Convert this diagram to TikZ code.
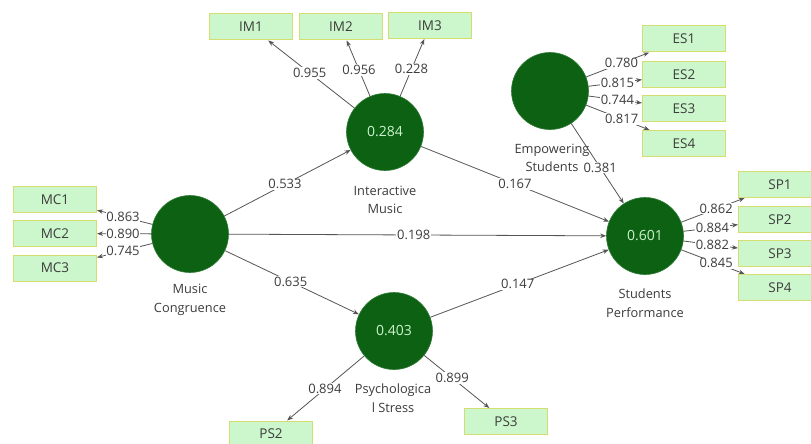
\documentclass[tikz,border=0pt]{standalone}
\usepackage{fontspec}
\setmainfont{Open Sans}
\usetikzlibrary{arrows.meta}
\definecolor{lv}{RGB}{12,98,18}
\definecolor{boxfill}{RGB}{204,247,204}
\definecolor{boxdraw}{RGB}{212,222,112}
\definecolor{lvtext}{RGB}{205,242,205}
\definecolor{lbl}{RGB}{60,60,60}
\definecolor{edge}{RGB}{85,85,85}
\begin{document}
\begin{tikzpicture}[x=1pt,y=-1pt,
  latent/.style={circle,fill=lv,draw=lv!85!white,line width=0.6pt,minimum size=77pt,inner sep=0pt,text=lvtext,font=\fontsize{14}{16}\selectfont},
  ind/.style={rectangle,fill=boxfill,draw=boxdraw,line width=1pt,minimum width=83pt,minimum height=26pt,inner sep=0pt,text=lbl,font=\fontsize{13.5}{15}\selectfont},
  captext/.style={align=center,text=lbl,inner sep=0pt,font=\fontsize{12.8}{18.5}\selectfont},
  arr/.style={draw=edge,line width=0.8pt,-{Stealth[length=6pt,width=4.5pt]}},
  coef/.style={fill=white,inner sep=0.8pt,text=lbl,font=\fontsize{13}{14}\selectfont}
]
\useasboundingbox[fill=white] (0,0) rectangle (811,444);

% latent variables
\node[latent] (mc) at (190,234) {};
\node[latent] (im) at (385,132) {0.284};
\node[latent] (es) at (550,91) {};
\node[latent] (sp) at (645,236) {0.601};
\node[latent] (ps) at (394,331) {0.403};

% captions
\node[captext] (mccap) at (190,300) {Music\\Congruence};
\node[captext] (imcap) at (385,200) {Interactive\\Music};
\node[captext] (escap) at (552,158) {Empowering\\Students};
\node[captext] (spcap) at (645,303) {Students\\Performance};
\node[captext] (pscap) at (393,398) {Psychologica\\l Stress};

% indicators
\node[ind] (mc1) at (55,199.5) {MC1};
\node[ind] (mc2) at (55,233.5) {MC2};
\node[ind] (mc3) at (55,268) {MC3};
\node[ind] (im1) at (251,27) {IM1};
\node[ind] (im2) at (341,27) {IM2};
\node[ind] (im3) at (430,25.5) {IM3};
\node[ind] (es1) at (684,39) {ES1};
\node[ind] (es2) at (684,74.5) {ES2};
\node[ind] (es3) at (684,108.5) {ES3};
\node[ind] (es4) at (684,143.5) {ES4};
\node[ind] (sp1) at (780,184.5) {SP1};
\node[ind] (sp2) at (780,219.5) {SP2};
\node[ind] (sp3) at (780,253.5) {SP3};
\node[ind] (sp4) at (780,287.5) {SP4};
\node[ind] (ps2) at (271,434) {PS2};
\node[ind] (ps3) at (506,421.5) {PS3};

% outer loadings
\draw[arr] (mc) -- node[coef,pos=0.53] (l1) {0.863} (mc1);
\draw[arr] (mc) -- node[coef,pos=0.52] (l2) {0.890} (mc2);
\draw[arr] (mc) -- node[coef,pos=0.53] (l3) {0.745} (mc3);
\draw[arr] (im) -- node[coef,pos=0.52] (l4) {0.955} (im1);
\draw[arr] (im) -- node[coef,pos=0.47] (l5) {0.956} (im2);
\draw[arr] (im) -- node[coef,pos=0.47] (l6) {0.228} (im3);
\draw[arr] (es) -- node[coef,pos=0.56] (l7) {0.780} (es1);
\draw[arr] (es) -- node[coef,pos=0.54] (l8) {0.815} (es2);
\draw[arr] (es) -- node[coef,pos=0.54] (l9) {0.744} (es3);
\draw[arr] (es) -- node[coef,pos=0.56] (l10) {0.817} (es4);
\draw[arr] (sp) -- node[coef,pos=0.55] (l11) {0.862} (sp1);
\draw[arr] (sp) -- node[coef,pos=0.53] (l12) {0.884} (sp2);
\draw[arr] (sp) -- node[coef,pos=0.53] (l13) {0.882} (sp3);
\draw[arr] (sp) -- node[coef,pos=0.55] (l14) {0.845} (sp4);
\draw[arr] (ps) -- node[coef,pos=0.51] (l15) {0.894} (ps2);
\draw[arr] (ps) -- node[coef,pos=0.43] (l16) {0.899} (ps3);

% structural paths
\draw[arr] (mc) -- node[coef,pos=0.48] (p1) {0.533} (im);
\draw[arr] (mc) -- node[coef,pos=0.49] (p2) {0.635} (ps);
\draw[arr] (mc) -- node[coef,pos=0.49] (p3) {0.198} (sp);
\draw[arr] (im) -- node[coef,pos=0.50] (p4) {0.167} (sp);
\draw[arr] (ps) -- node[coef,pos=0.49] (p5) {0.147} (sp);
\draw[arr] (es) -- node[coef,pos=0.55] (p6) {0.381} (sp);
\end{tikzpicture}
\end{document}
